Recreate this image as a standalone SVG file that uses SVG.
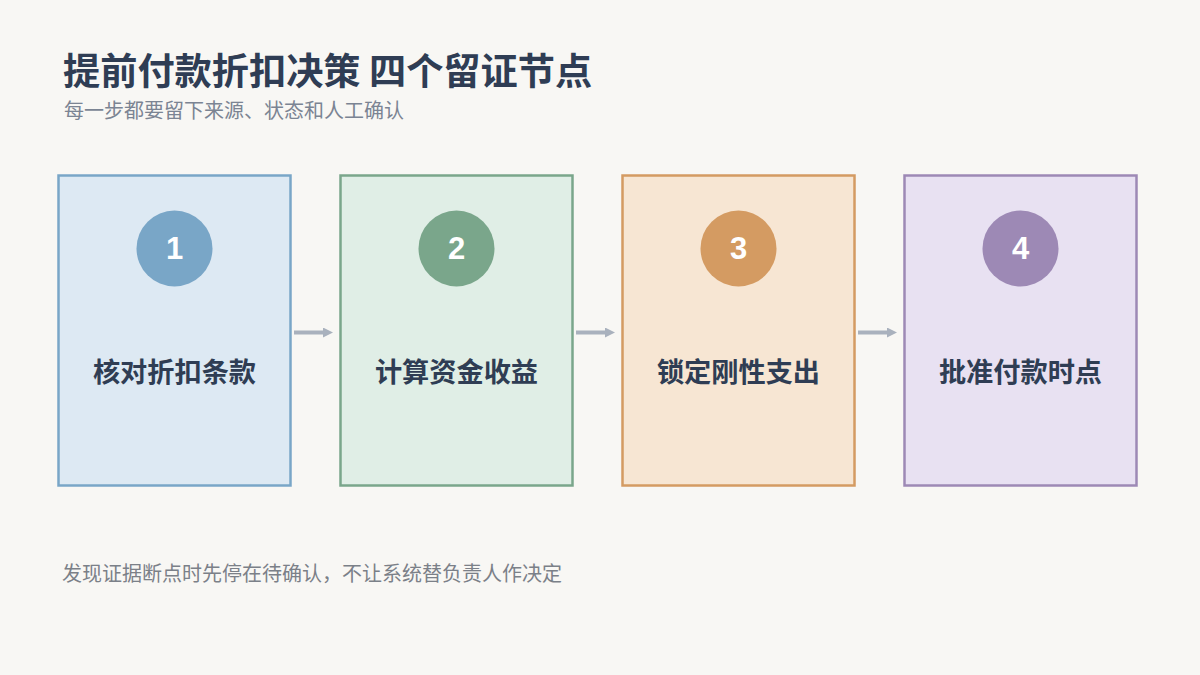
<svg xmlns="http://www.w3.org/2000/svg" width="1200" height="675" viewBox="0 0 1200 675">
  <style>
    .title { font-family: "Noto Sans CJK SC", "Liberation Sans", sans-serif; font-size: 37.2px; font-weight: 700; fill: #2f3d54; }
    .sub { font-family: "Noto Sans CJK SC", "Liberation Sans", sans-serif; font-size: 20px; fill: #7b8493; }
    .foot { font-family: "Noto Sans CJK SC", "Liberation Sans", sans-serif; font-size: 20px; fill: #7b8088; }
    .card { stroke-width: 2.5; }
    .num { font-family: "Liberation Sans", "Noto Sans", sans-serif; font-size: 31px; font-weight: 700; fill: #ffffff; text-anchor: middle; }
    .label { font-family: "Noto Sans CJK SC", "Liberation Sans", sans-serif; font-size: 27.2px; font-weight: 700; fill: #2f3d54; text-anchor: middle; }
    .conn { stroke: #a9b1bd; stroke-width: 4; fill: none; }
  </style>
  <defs>
    <marker id="ah" viewBox="0 0 10 10" refX="2" refY="5" markerWidth="2.5" markerHeight="2.5" orient="auto" markerUnits="strokeWidth">
      <path d="M0,0 L10,5 L0,10 Z" fill="#a9b1bd"/>
    </marker>
  </defs>
  <rect x="0" y="0" width="1200" height="675" fill="#f8f7f4"/>
  <text class="title" x="63" y="85">提前付款折扣决策 四个留证节点</text>
  <text class="sub" x="64" y="118">每一步都要留下来源、状态和人工确认</text>

  <g id="node-1">
    <rect class="card" x="58.5" y="175.5" width="232" height="310" fill="#dde9f3" stroke="#79a6c7"/>
    <circle cx="174.5" cy="248.5" r="38" fill="#79a6c7"/>
    <text class="num" x="174.5" y="258.5">1</text>
    <text class="label" x="174.5" y="382">核对折扣条款</text>
  </g>
  <g id="node-2">
    <rect class="card" x="340.5" y="175.5" width="232" height="310" fill="#e0eee6" stroke="#7aa68b"/>
    <circle cx="456.5" cy="248.5" r="38" fill="#7aa68b"/>
    <text class="num" x="456.5" y="258.5">2</text>
    <text class="label" x="456.5" y="382">计算资金收益</text>
  </g>
  <g id="node-3">
    <rect class="card" x="622.5" y="175.5" width="232" height="310" fill="#f7e6d3" stroke="#d49b62"/>
    <circle cx="738.5" cy="248.5" r="38" fill="#d49b62"/>
    <text class="num" x="738.5" y="258.5">3</text>
    <text class="label" x="738.5" y="382">锁定刚性支出</text>
  </g>
  <g id="node-4">
    <rect class="card" x="904.5" y="175.5" width="232" height="310" fill="#e8e1f2" stroke="#9d89b5"/>
    <circle cx="1020.5" cy="248.5" r="38" fill="#9d89b5"/>
    <text class="num" x="1020.5" y="258.5">4</text>
    <text class="label" x="1020.5" y="382">批准付款时点</text>
  </g>

  <g id="connectors">
    <line class="conn" x1="294" y1="332.5" x2="325" y2="332.5" marker-end="url(#ah)"/>
    <line class="conn" x1="576" y1="332.5" x2="607" y2="332.5" marker-end="url(#ah)"/>
    <line class="conn" x1="858" y1="332.5" x2="889" y2="332.5" marker-end="url(#ah)"/>
  </g>

  <text class="foot" x="62" y="581">发现证据断点时先停在待确认，不让系统替负责人作决定</text>
</svg>
